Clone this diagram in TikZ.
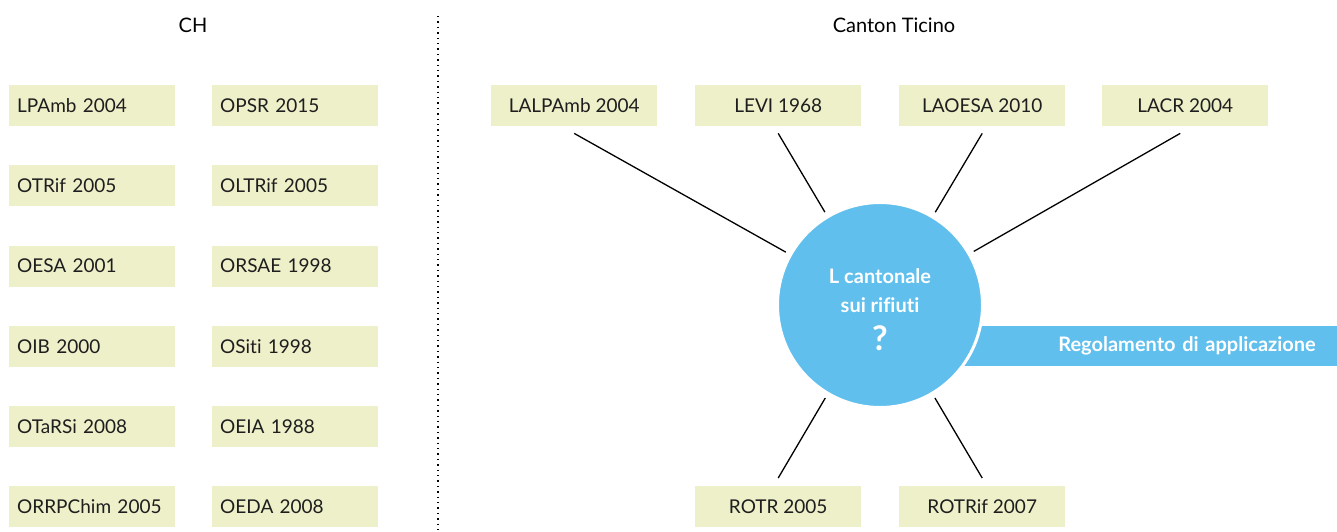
\documentclass[tikz,border=0pt]{standalone}
\usepackage{fontspec}
\setmainfont{Lato}[Ligatures=NoCommon]
\usetikzlibrary{positioning}
\definecolor{boxgreen}{RGB}{237,240,200}
\definecolor{circblue}{RGB}{96,191,236}
\definecolor{txtgray}{RGB}{30,30,30}

\tikzset{
  lawbox/.style={fill=boxgreen, minimum width=166pt, minimum height=41pt,
    inner sep=0pt, text=txtgray, font=\fontsize{19}{22}\selectfont},
  chbox/.style={lawbox, text width=150pt, align=left, inner xsep=8pt},
  spoke/.style={line width=1.3pt, shorten >=4pt},
  header/.style={font=\fontsize{20}{23}\selectfont},
}

\begin{document}
\begin{tikzpicture}[x=1pt,y=-1pt]
\useasboundingbox (0,0) rectangle (1337,531);

% headings and divider
\node[header] (ch) at (193,25) {CH};
\node[header] (ticino) at (894,25) {Canton Ticino};
\coordinate (divtop) at (438,16);
\coordinate (divbot) at (438,531);
\draw[line width=1.4pt, dash pattern=on 1.4pt off 4pt] (divtop) -- (divbot);

% federal acts (CH)
\foreach \txt [count=\i from 0] in {LPAmb 2004, OTRif 2005, OESA 2001, OIB 2000, OTaRSi 2008, ORRPChim 2005}
  \node[chbox, anchor=north west] (chL\i) at (9,85+80.2*\i) {\txt};
\foreach \txt [count=\i from 0] in {OPSR 2015, OLTRif 2005, ORSAE 1998, OSiti 1998, OEIA 1988, OEDA 2008}
  \node[chbox, anchor=north west] (chR\i) at (212,85+80.2*\i) {\txt};

% cantonal acts
\node[lawbox, anchor=north west] (lalpamb) at (491,85) {LALPAmb 2004};
\node[lawbox, anchor=north west] (levi) at (695,85) {LEVI 1968};
\node[lawbox, anchor=north west] (laoesa) at (899,85) {LAOESA 2010};
\node[lawbox, anchor=north west] (lacr) at (1102,85) {LACR 2004};
\node[lawbox, anchor=north west] (rotr) at (695,486) {ROTR 2005};
\node[lawbox, anchor=north west] (rotrif) at (899,486) {ROTRif 2007};

% regolamento banner, behind the circle
\node[fill=circblue, anchor=east, minimum width=477pt, minimum height=40pt,
  inner xsep=21pt, inner ysep=0pt, text width=435pt, align=right, text=white,
  font=\fontsize{20}{22}\selectfont\bfseries] (regol) at (1337,346) {Regolamento di applicazione};

% the law
\node[circle, fill=circblue, draw=white, line width=3pt, minimum size=205pt] (lcant) at (880,305) {};
\node[text=white, align=center, font=\fontsize{20}{29}\selectfont\bfseries] (lcanttxt)
  at ([yshift=-5pt]lcant.center)
  {L cantonale\\sui rifiuti\\[9pt]{\fontsize{34}{34}\selectfont ?}};

% spokes
\draw[spoke] ([yshift=-7pt]lalpamb.south) -- (lcant);
\draw[spoke] ([yshift=-7pt]levi.south) -- (lcant);
\draw[spoke] ([yshift=-7pt]laoesa.south) -- (lcant);
\draw[spoke] ([shift={(-5pt,-7pt)}]lacr.south) -- (lcant);
\draw[spoke] ([yshift=8pt]rotr.north) -- (lcant);
\draw[spoke] ([yshift=8pt]rotrif.north) -- (lcant);
\end{tikzpicture}
\end{document}
